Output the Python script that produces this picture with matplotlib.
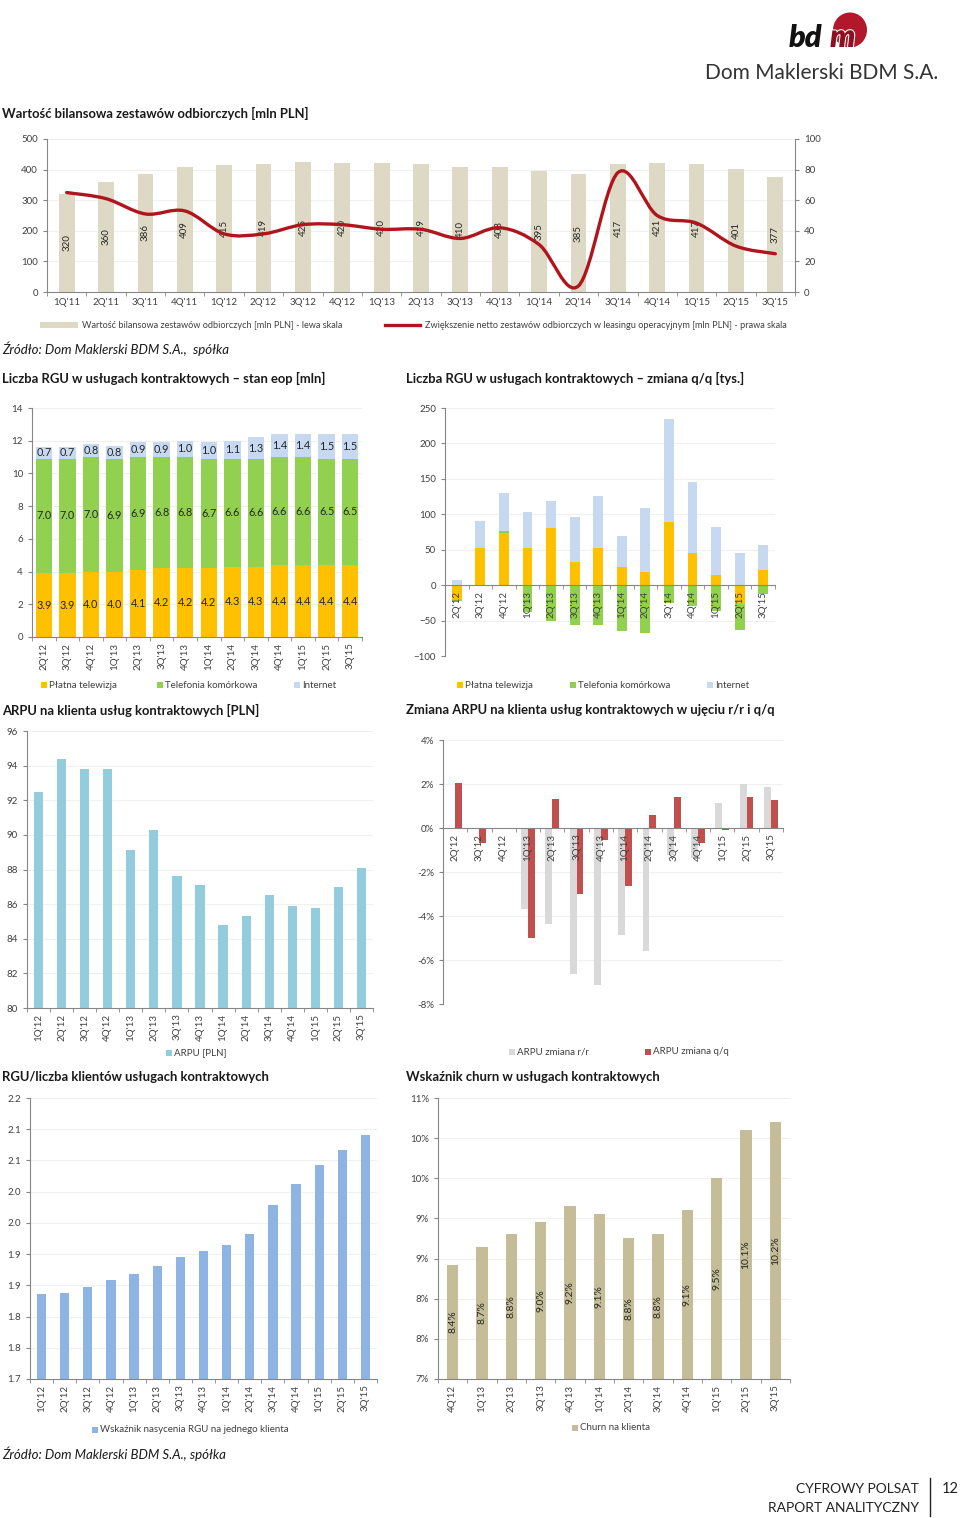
import numpy as np
import matplotlib
matplotlib.use('Agg')
import matplotlib.pyplot as plt
from matplotlib.path import Path
from matplotlib.patches import PathPatch, Rectangle, Ellipse
from matplotlib.lines import Line2D
import matplotlib.patheffects as pe

plt.rcParams['font.family'] = ['Lato', 'DejaVu Sans']

W, H = 960, 1518

# --- wartość bilansowa zestawów (lewa skala) i zwiększenie netto (prawa skala)
q_top = ["1Q'11", "2Q'11", "3Q'11", "4Q'11", "1Q'12", "2Q'12", "3Q'12", "4Q'12",
         "1Q'13", "2Q'13", "3Q'13", "4Q'13", "1Q'14", "2Q'14", "3Q'14", "4Q'14",
         "1Q'15", "2Q'15", "3Q'15"]
wartosc = [320, 360, 386, 409, 415, 419, 425, 420, 420, 419, 410, 408, 395, 385,
           417, 421, 417, 401, 377]
zwiekszenie = [65, 61, 51, 53, 38, 38, 44, 44, 41, 41, 35, 42, 31, 4, 78, 50, 45, 30, 25]

# --- RGU stan eop [mln]
q_rgu = ["2Q'12", "3Q'12", "4Q'12", "1Q'13", "2Q'13", "3Q'13", "4Q'13", "1Q'14",
         "2Q'14", "3Q'14", "4Q'14", "1Q'15", "2Q'15", "3Q'15"]
rgu_tv = [3.9, 3.9, 4.0, 4.0, 4.1, 4.2, 4.2, 4.2, 4.3, 4.3, 4.4, 4.4, 4.4, 4.4]
rgu_mob = [7.0, 7.0, 7.0, 6.9, 6.9, 6.8, 6.8, 6.7, 6.6, 6.6, 6.6, 6.6, 6.5, 6.5]
rgu_net = [0.7, 0.7, 0.8, 0.8, 0.9, 0.9, 1.0, 1.0, 1.1, 1.3, 1.4, 1.4, 1.5, 1.5]

# --- RGU zmiana q/q [tys.]
chg_tv = [-21, 53, 73, 53, 80, 33, 52, 25, 18, 89, 46, 14, -27, 22]
chg_mob = [-2, -1, 3, -38, -50, -56, -56, -65, -68, -25, -29, -36, -37, -13]
chg_net = [7, 37, 54, 50, 39, 63, 74, 44, 91, 146, 100, 68, 46, 34]

# --- ARPU [PLN]
q_arpu = ["1Q'12", "2Q'12", "3Q'12", "4Q'12", "1Q'13", "2Q'13", "3Q'13", "4Q'13",
          "1Q'14", "2Q'14", "3Q'14", "4Q'14", "1Q'15", "2Q'15", "3Q'15"]
arpu = [92.5, 94.4, 93.8, 93.8, 89.1, 90.3, 87.6, 87.1, 84.8, 85.3, 86.5, 85.9,
        85.8, 87.0, 88.1]

# --- zmiana ARPU r/r i q/q [%]
arpu_rr = [np.nan, np.nan, np.nan, -3.67, -4.35, -6.63, -7.15, -4.85, -5.57,
           -1.23, -1.38, 1.15, 2.0, 1.85]
arpu_qq = [2.05, -0.67, 0.0, -5.02, 1.33, -3.0, -0.55, -2.65, 0.58, 1.41, -0.7,
           -0.1, 1.39, 1.27]

# --- RGU / klient
rgu_klient = [1.836, 1.838, 1.847, 1.858, 1.868, 1.881, 1.895, 1.905, 1.914,
              1.933, 1.978, 2.012, 2.043, 2.066, 2.091]
rk_ticks = [1.70, 1.75, 1.80, 1.85, 1.90, 1.95, 2.00, 2.05, 2.10, 2.15]
rk_ticklabels = ['1.7', '1.8', '1.8', '1.9', '1.9', '2.0', '2.0', '2.1', '2.1', '2.2']

# --- churn [%]
q_churn = ["4Q'12", "1Q'13", "2Q'13", "3Q'13", "4Q'13", "1Q'14", "2Q'14", "3Q'14",
           "4Q'14", "1Q'15", "2Q'15", "3Q'15"]
churn = [8.42, 8.65, 8.8, 8.96, 9.16, 9.06, 8.76, 8.8, 9.1, 9.5, 10.1, 10.2]
ch_ticks = [7.0, 7.5, 8.0, 8.5, 9.0, 9.5, 10.0, 10.5]
ch_ticklabels = ['7%', '8%', '8%', '9%', '9%', '10%', '10%', '11%']

TXT = '#404040'
AXC = '#868686'
YEL, GRN, BLU = '#FFC000', '#92D050', '#C6D9F1'

fig = plt.figure(figsize=(W / 100, H / 100), dpi=100)
fig.patch.set_facecolor('white')


def px_axes(l, t, r, b):
    return fig.add_axes([l / W, 1 - b / H, (r - l) / W, (b - t) / H])


def ftext(x, y, s, **kw):
    kw.setdefault('va', 'center')
    return fig.text(x / W, 1 - y / H, s, **kw)


def legend_sq(x, y, color, label, size=6):
    fig.add_artist(Rectangle((x / W, 1 - (y + size / 2) / H), size / W, size / H,
                             transform=fig.transFigure, facecolor=color, edgecolor='none'))
    ftext(x + size + 2, y, label, fontsize=7, color=TXT)


def title(x, y, s):
    ftext(x, y, s, fontsize=9.4, fontweight='bold', color='#1a1a1a')


def style(ax, n, rot=90):
    for s in ['top', 'right']:
        ax.spines[s].set_visible(False)
    for s in ['left', 'bottom']:
        ax.spines[s].set_color(AXC)
    ax.tick_params(axis='y', colors=TXT, labelsize=7, length=3, color=AXC)
    ax.tick_params(axis='x', which='major', colors=TXT, labelsize=7, length=0,
                   labelrotation=rot, pad=4)
    ax.set_xticks(np.arange(n + 1) - 0.5, minor=True)
    ax.tick_params(axis='x', which='minor', length=3, color=AXC)
    ax.set_xlim(-0.5, n - 0.5)


def grid(ax, ticks):
    for t in ticks:
        ax.axhline(t, color='#F0F0F0', lw=0.8, zorder=0)


def smooth_path(xs, ys):
    pts = np.column_stack([xs, ys]).astype(float)
    n = len(pts)
    verts = [pts[0]]
    codes = [Path.MOVETO]
    for i in range(n - 1):
        p0 = pts[i - 1] if i > 0 else pts[i]
        p1, p2 = pts[i], pts[i + 1]
        p3 = pts[i + 2] if i + 2 < n else pts[i + 1]
        verts += [p1 + (p2 - p0) / 6, p2 - (p3 - p1) / 6, p2]
        codes += [Path.CURVE4] * 3
    return Path(verts, codes)


# ================= logo =================
fig.add_artist(Ellipse((850 / W, 1 - 30 / H), 34 / W, 35 / H, transform=fig.transFigure,
                       facecolor='#B3172B', edgecolor='none'))
ftext(789, 47, 'bd', fontsize=22, fontweight='heavy', style='italic', va='baseline',
      color='#111111')
ftext(830, 47, 'm', fontsize=23, fontweight='heavy', style='italic', va='baseline',
      color='#8E1020', path_effects=[pe.withStroke(linewidth=1.5, foreground='white')])
ftext(705, 73, 'Dom Maklerski BDM S.A.', fontsize=15, color='#333333')

# ================= wykres 1 =================
title(2, 113, 'Wartość bilansowa zestawów odbiorczych [mln PLN]')
ax = px_axes(47, 139, 795, 292)
x = np.arange(len(q_top))
ax.bar(x, wartosc, 0.4, color='#DDD9C4')
style(ax, len(q_top), rot=0)
ax.set_xticks(x, q_top)
ax.set_ylim(0, 500)
ax.set_yticks(range(0, 501, 100))
grid(ax, range(100, 501, 100))
for xi, v in zip(x, wartosc):
    ax.text(xi, v / 2, str(v), rotation=90, ha='center', va='center', fontsize=7,
            color='#262626')
ax2 = ax.twinx()
ax2.set_ylim(0, 100)
ax2.set_yticks(range(0, 101, 20))
for s in ['top', 'left', 'bottom']:
    ax2.spines[s].set_visible(False)
ax2.spines['right'].set_color(AXC)
ax2.tick_params(axis='y', colors=TXT, labelsize=7, length=3, color=AXC)
ax2.add_patch(PathPatch(smooth_path(x, zwiekszenie), facecolor='none',
                        edgecolor='#B0141C', lw=2.4, capstyle='round', joinstyle='round'))

fig.add_artist(Rectangle((40 / W, 1 - 328 / H), 38 / W, 6 / H, transform=fig.transFigure,
                         facecolor='#DDD9C4', edgecolor='none'))
ftext(82, 325, 'Wartość bilansowa zestawów odbiorczych [mln PLN] - lewa skala',
      fontsize=6.6, color=TXT)
fig.add_artist(Line2D([385 / W, 420 / W], [1 - 325 / H] * 2, transform=fig.transFigure,
                      color='#B0141C', lw=2.4))
ftext(425, 325, 'Zwiększenie netto zestawów odbiorczych w leasingu operacyjnym '
      '[mln PLN] - prawa skala', fontsize=6.6, color=TXT)
ftext(2, 349, 'Źródło: Dom Maklerski BDM S.A.,  spółka', fontsize=9.5, style='italic',
      color='#1a1a1a')

# ================= RGU stan eop =================
title(2, 378, 'Liczba RGU w usługach kontraktowych – stan eop [mln]')
ax = px_axes(32, 408, 362, 637)
x = np.arange(len(q_rgu))
tv, mob, net = np.array(rgu_tv), np.array(rgu_mob), np.array(rgu_net)
ax.bar(x, tv, 0.7, color=YEL)
ax.bar(x, mob, 0.7, bottom=tv, color=GRN)
ax.bar(x, net, 0.7, bottom=tv + mob, color=BLU)
style(ax, len(q_rgu))
ax.set_xticks(x, q_rgu)
ax.set_ylim(0, 14)
ax.set_yticks(range(0, 15, 2))
grid(ax, range(2, 15, 2))
for xi in x:
    ax.text(xi, tv[xi] / 2, f'{tv[xi]:.1f}', ha='center', va='center', fontsize=7.8,
            color='#262626')
    ax.text(xi, tv[xi] + mob[xi] / 2, f'{mob[xi]:.1f}', ha='center', va='center',
            fontsize=7.8, color='#262626')
    ax.text(xi, tv[xi] + mob[xi] + net[xi] / 2, f'{net[xi]:.1f}', ha='center',
            va='center', fontsize=7.8, color='#262626')
legend_sq(41, 685, YEL, 'Płatna telewizja')
legend_sq(157, 685, GRN, 'Telefonia komórkowa')
legend_sq(294, 685, BLU, 'Internet')

# ================= RGU zmiana q/q =================
title(406, 378, 'Liczba RGU w usługach kontraktowych – zmiana q/q [tys.]')
ax = px_axes(445, 408, 775, 656)
pos = np.zeros(len(q_rgu))
neg = np.zeros(len(q_rgu))
for vals, col in [(chg_tv, YEL), (chg_mob, GRN), (chg_net, BLU)]:
    v = np.array(vals, float)
    bottom = np.where(v >= 0, pos, neg)
    ax.bar(x, v, 0.42, bottom=bottom, color=col)
    pos = pos + np.where(v >= 0, v, 0)
    neg = neg + np.where(v < 0, v, 0)
style(ax, len(q_rgu))
ax.set_xticks(x, q_rgu)
ax.spines['bottom'].set_position(('data', 0))
ax.set_ylim(-100, 250)
ax.set_yticks(range(-100, 251, 50))
grid(ax, [-50, 50, 100, 150, 200, 250])
legend_sq(457, 685, YEL, 'Płatna telewizja')
legend_sq(570, 685, GRN, 'Telefonia komórkowa')
legend_sq(707, 685, BLU, 'Internet')

# ================= ARPU =================
title(2, 710, 'ARPU na klienta usług kontraktowych [PLN]')
ax = px_axes(27, 731, 373, 1008)
x = np.arange(len(q_arpu))
ax.bar(x, arpu, 0.4, color='#93CDDD')
style(ax, len(q_arpu))
ax.set_xticks(x, q_arpu)
ax.set_ylim(80, 96)
ax.set_yticks(range(80, 97, 2))
grid(ax, range(82, 97, 2))
legend_sq(166, 1053, '#93CDDD', 'ARPU [PLN]')

# ================= zmiana ARPU =================
title(406, 710, 'Zmiana ARPU na klienta usług kontraktowych w ujęciu r/r i q/q')
ax = px_axes(443, 740, 783, 1004)
x = np.arange(len(q_rgu))
ax.bar(x - 0.14, arpu_rr, 0.28, color='#D9D9D9')
ax.bar(x + 0.14, arpu_qq, 0.28, color='#C0504D')
style(ax, len(q_rgu))
ax.set_xticks(x, q_rgu)
ax.spines['bottom'].set_position(('data', 0))
ax.set_ylim(-8, 4)
ax.set_yticks(range(-8, 5, 2), [f'{v}%' for v in range(-8, 5, 2)])
grid(ax, [-8, -6, -4, -2, 2, 4])
legend_sq(509, 1052, '#D9D9D9', 'ARPU zmiana r/r')
legend_sq(645, 1052, '#C0504D', 'ARPU zmiana q/q')

# ================= RGU / klient =================
title(2, 1077, 'RGU/liczba klientów usługach kontraktowych')
ax = px_axes(30, 1098, 377, 1379)
x = np.arange(len(q_arpu))
ax.bar(x, rgu_klient, 0.4, color='#8DB4E2')
style(ax, len(q_arpu))
ax.set_xticks(x, q_arpu)
ax.set_ylim(1.70, 2.15)
ax.set_yticks(rk_ticks, rk_ticklabels)
grid(ax, rk_ticks[1:])
legend_sq(92, 1430, '#8DB4E2', 'Wskaźnik nasycenia RGU na jednego klienta')

# ================= churn =================
title(406, 1077, 'Wskaźnik churn w usługach kontraktowych')
ax = px_axes(438, 1098, 790, 1379)
x = np.arange(len(q_churn))
ax.bar(x, churn, 0.39, color='#C4BD97')
style(ax, len(q_churn))
ax.set_xticks(x, q_churn)
ax.set_ylim(7.0, 10.5)
ax.set_yticks(ch_ticks, ch_ticklabels)
grid(ax, ch_ticks[1:])
for xi, v in zip(x, churn):
    ax.text(xi, (7.0 + v) / 2, f'{v:.1f}%', rotation=90, ha='center', va='center',
            fontsize=7.5, color='#262626')
legend_sq(572, 1428, '#C4BD97', 'Churn na klienta')

ftext(2, 1454, 'Źródło: Dom Maklerski BDM S.A., spółka', fontsize=9.5, style='italic',
      color='#1a1a1a')

# ================= stopka =================
ftext(919, 1489, 'CYFROWY POLSAT', fontsize=10, ha='right', color='#222222')
ftext(919, 1508, 'RAPORT ANALITYCZNY', fontsize=10, ha='right', color='#222222')
fig.add_artist(Line2D([930 / W] * 2, [1 - 1478 / H, 1 - 1516 / H], transform=fig.transFigure,
                      color='#222222', lw=1))
ftext(942, 1489, '12', fontsize=10.5, color='#222222')

fig.savefig('out.png', dpi=100)
